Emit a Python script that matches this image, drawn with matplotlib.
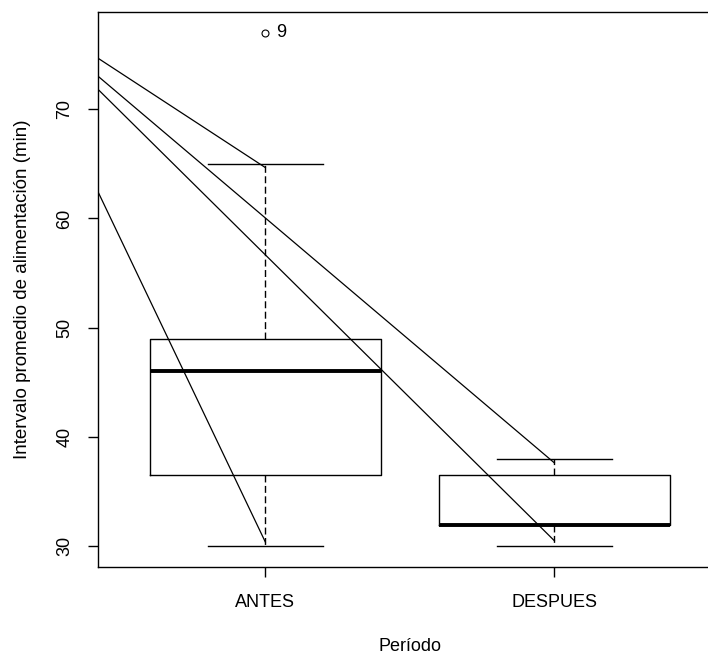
import numpy as np
import matplotlib.pyplot as plt

plt.rcParams['font.family'] = ['Liberation Sans', 'DejaVu Sans']

# datos de las cajas
groups = ["ANTES", "DESPUES"]
q1 = [36.5, 32.0]
med = [46.0, 32.0]
q3 = [49.0, 36.5]
whislo = [30.0, 30.0]
whishi = [65.0, 38.0]
outliers = [[77.0], []]
outlier_ids = ["9"]

# lineas que salen de un punto comun fuera del grafico
line_origin = (0.1, 80.2)
line_end_x = [1, 2, 2, 1]
line_end_y = [64.65, 37.64, 30.52, 30.4]

yticks = [30, 40, 50, 60, 70]

fig = plt.figure(figsize=(7.08, 6.55), dpi=100)
ax = fig.add_axes([0.138, 0.1344, 0.8818, 0.8473])

stats = []
for i in range(len(groups)):
    stats.append(dict(label=groups[i], q1=q1[i], med=med[i], q3=q3[i],
                      whislo=whislo[i], whishi=whishi[i], fliers=outliers[i]))

ax.bxp(stats, positions=[1, 2], widths=0.8, capwidths=0.4, manage_ticks=False,
       boxprops=dict(color='black', lw=1.0),
       medianprops=dict(color='black', lw=2.8, solid_capstyle='butt'),
       whiskerprops=dict(color='black', lw=1.0, linestyle=(0, (5, 2.5))),
       capprops=dict(color='black', lw=1.0),
       flierprops=dict(marker='o', mfc='none', mec='black', ms=5, mew=0.8))

# etiqueta del dato atipico
ax.annotate(outlier_ids[0], (1, outliers[0][0]), xytext=(7.5, 0),
            textcoords='offset points', ha='left', va='center', fontsize=13)

for xe, ye in zip(line_end_x, line_end_y):
    ax.plot([line_origin[0], xe], [line_origin[1], ye], color='black', lw=0.9)

ax.set_xlim(0.42, 2.58)
ax.set_ylim(28.12, 78.88)

ax.set_xticks([1, 2])
ax.set_xticklabels(groups)
ax.set_yticks(yticks)
ax.set_yticklabels([str(t) for t in yticks], rotation=90, va='center')
ax.tick_params(axis='both', direction='out', length=7.5, width=1.0, labelsize=13)
ax.tick_params(axis='x', pad=12)
ax.tick_params(axis='y', pad=10)

for s in ax.spines.values():
    s.set_linewidth(1.0)

ax.set_xlabel("Período", fontsize=13, va='center')
ax.xaxis.set_label_coords(0.5, -0.144)
ax.set_ylabel("Intervalo promedio de alimentación (min)", fontsize=13.5, va='center')
ax.yaxis.set_label_coords(-0.1205, 0.5)

fig.savefig("out.png", dpi=100)
